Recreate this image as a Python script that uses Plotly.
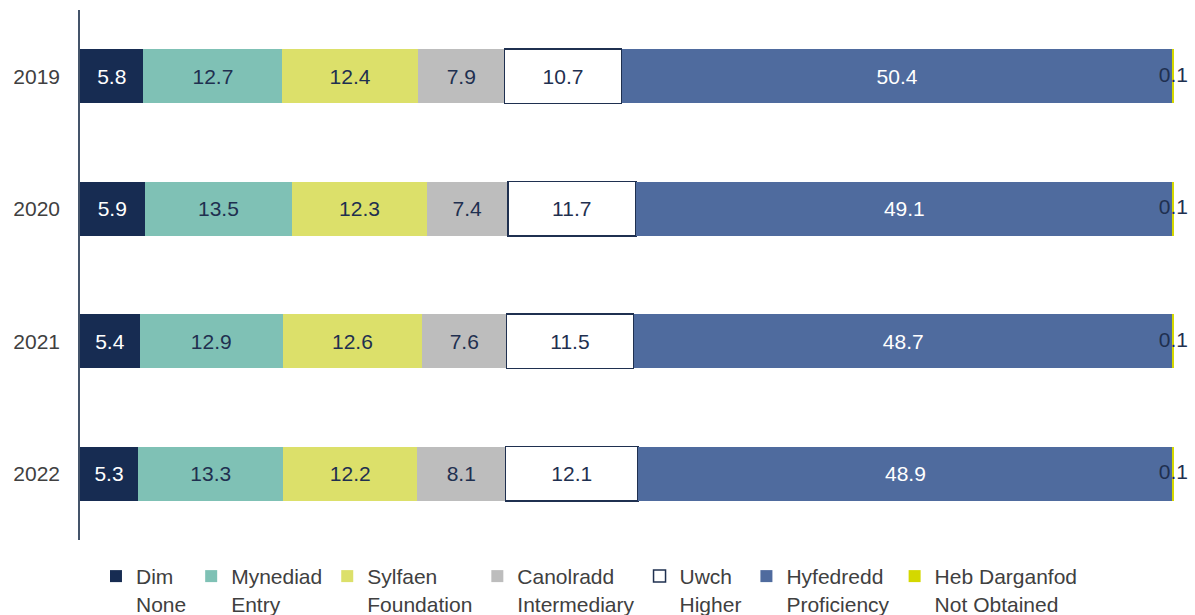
import plotly.graph_objects as go

years = ["2019", "2020", "2021", "2022"]
series_names = ["Dim<br>None", "Mynediad<br>Entry", "Sylfaen<br>Foundation", "Canolradd<br>Intermediary",
                "Uwch<br>Higher", "Hyfedredd<br>Proficiency", "Heb Darganfod<br>Not Obtained"]
dim_none = [5.8, 5.9, 5.4, 5.3]
mynediad_entry = [12.7, 13.5, 12.9, 13.3]
sylfaen_foundation = [12.4, 12.3, 12.6, 12.2]
canolradd_intermediary = [7.9, 7.4, 7.6, 8.1]
uwch_higher = [10.7, 11.7, 11.5, 12.1]
hyfedredd_proficiency = [50.4, 49.1, 48.7, 48.9]
heb_not_obtained = [0.1, 0.1, 0.1, 0.1]

series = [dim_none, mynediad_entry, sylfaen_foundation, canolradd_intermediary,
          uwch_higher, hyfedredd_proficiency, heb_not_obtained]
colors = ["#172C52", "#7FC1B5", "#DCE06A", "#BDBDBD", "#FFFFFF", "#4F6B9E", "#D4D800"]
text_colors = ["#FFFFFF", "#1F3050", "#1F3050", "#1F3050", "#1F3050", "#FFFFFF", "#1F3050"]

FONT = "Liberation Sans, Arial, sans-serif"
FS = 21
fig = go.Figure()
for i, (name, vals) in enumerate(zip(series_names, series)):
    is_last = i == len(series) - 1
    fig.add_trace(go.Bar(
        y=years, x=vals, name=name, orientation="h",
        marker=dict(color=colors[i],
                    line=dict(color="#1F3050" if i == 4 else colors[i], width=1.5 if i == 4 else 0)),
        text=vals,
        texttemplate="%{text:.1f}" if not is_last else None,
        textposition="inside" if not is_last else "none",
        insidetextanchor="middle",
        textfont=dict(color=text_colors[i], size=FS, family=FONT),
        hoverinfo="x+y+name",
    ))

# label for the tiny final segment (drawn from data, normalised like the bars)
totals = [sum(s[k] for s in series) for k in range(len(years))]
last_pos = [(totals[k] - heb_not_obtained[k] / 2) / totals[k] * 100 for k in range(len(years))]
fig.add_trace(go.Scatter(
    x=last_pos, y=years, mode="text",
    text=[f"{v:.1f}" for v in heb_not_obtained],
    textposition="middle center",
    textfont=dict(color="#1F3050", size=FS, family=FONT),
    showlegend=False, hoverinfo="skip", cliponaxis=False,
))

fig.update_layout(
    barmode="stack", barnorm="percent", bargap=0.59,
    width=1195, height=615,
    margin=dict(l=80, r=21, t=10, b=75, autoexpand=False),
    plot_bgcolor="white", paper_bgcolor="white",
    font=dict(family=FONT, size=FS, color="#404040"),
    legend=dict(orientation="h", x=0.0146, xanchor="left",
                yref="container", y=0.096, yanchor="top",
                valign="top", font=dict(size=FS, color="#404040", family=FONT),
                itemwidth=30, tracegroupgap=0, traceorder="normal"),
    xaxis=dict(range=[0, 100], showgrid=False, showticklabels=False, zeroline=False,
               showline=False, fixedrange=True),
    yaxis=dict(categoryorder="array", categoryarray=years, autorange=False,
               range=[3.5, -0.5], showgrid=False, showline=True, linecolor="#44546A",
               linewidth=1.5, ticks="", ticklabelstandoff=14,
               tickfont=dict(size=FS, color="#404040", family=FONT)),
)

fig.write_html("out.html", config={"displayModeBar": False},
               post_script="document.body.style.margin='0px';")
